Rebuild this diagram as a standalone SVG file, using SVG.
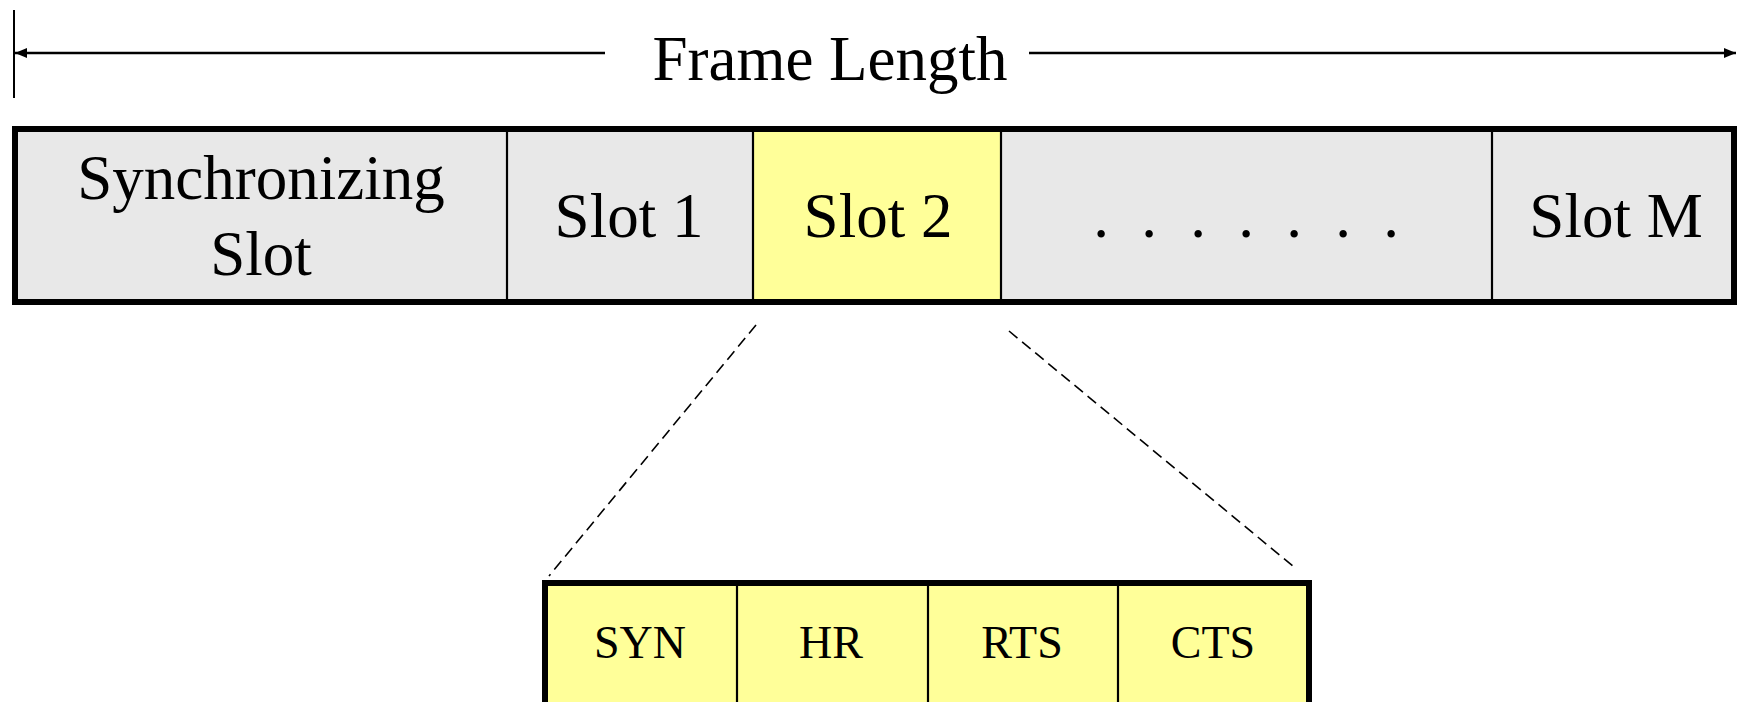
<svg xmlns="http://www.w3.org/2000/svg" width="1737" height="702" viewBox="0 0 1737 702">
  <defs>
    <marker id="arrow" viewBox="0 0 12 10" refX="12" refY="5" markerWidth="12" markerHeight="10" markerUnits="userSpaceOnUse" orient="auto-start-reverse">
      <path d="M0,0 L12,5 L0,10 Z" fill="#000"/>
    </marker>
  </defs>
  <style>
    .lbl { font-family: "Liberation Serif", "Times New Roman", serif; fill: #000; text-anchor: middle; }
    .big { font-size: 63px; }
    .small { font-size: 46px; }
    .frame { stroke: #000; stroke-width: 6; }
    .cell-grey { fill: #e8e8e8; }
    .cell-yellow { fill: #ffff99; }
    .div { stroke: #000; stroke-width: 2.2; }
    .dash { stroke: #000; stroke-width: 1.6; stroke-dasharray: 11 6; fill: none; }
  </style>

  <rect width="1737" height="702" fill="#fff"/>

  <!-- frame length dimension -->
  <g id="frame-length">
    <line x1="14" y1="10" x2="14" y2="98" stroke="#000" stroke-width="2"/>
    <line x1="15" y1="53" x2="605" y2="53" stroke="#000" stroke-width="2.4" marker-start="url(#arrow)"/>
    <line x1="1029" y1="53" x2="1736" y2="53" stroke="#000" stroke-width="2.4" marker-end="url(#arrow)"/>
    <text class="lbl big" x="830" y="80" font-size="64">Frame Length</text>
  </g>

  <!-- frame slots -->
  <g id="frame">
    <rect class="cell-grey" x="15" y="129" width="1722" height="173"/>
    <g id="sync-slot">
      <text class="lbl big" x="261" y="199">Synchronizing</text>
      <text class="lbl big" x="261" y="275">Slot</text>
    </g>
    <g id="slot-1">
      <line class="div" x1="507" y1="129" x2="507" y2="302"/>
      <text class="lbl big" x="629" y="237">Slot 1</text>
    </g>
    <g id="slot-2">
      <rect class="cell-yellow" x="753" y="129" width="248" height="173"/>
      <line class="div" x1="753" y1="129" x2="753" y2="302"/>
      <line class="div" x1="1001" y1="129" x2="1001" y2="302"/>
      <text class="lbl big" x="878" y="237">Slot 2</text>
    </g>
    <g id="slot-dots">
      <text class="lbl big" y="237" x="1101 1149 1198 1246 1294 1343 1391">.......</text>
    </g>
    <g id="slot-m">
      <line class="div" x1="1492" y1="129" x2="1492" y2="302"/>
      <text class="lbl big" x="1616" y="237">Slot M</text>
    </g>
    <rect class="frame" x="15" y="129" width="1719" height="173" fill="none"/>
  </g>

  <!-- expansion of slot 2 -->
  <g id="connectors">
    <line class="dash" x1="756" y1="325" x2="549" y2="576"/>
    <line class="dash" x1="1009" y1="331" x2="1294" y2="567"/>
  </g>

  <g id="slot-detail">
    <rect class="cell-yellow" x="545" y="583" width="764" height="130"/>
    <g id="syn">
      <text class="lbl small" x="640" y="658">SYN</text>
    </g>
    <g id="hr">
      <line class="div" x1="737" y1="583" x2="737" y2="702"/>
      <text class="lbl small" x="831" y="658">HR</text>
    </g>
    <g id="rts">
      <line class="div" x1="928" y1="583" x2="928" y2="702"/>
      <text class="lbl small" x="1022" y="658">RTS</text>
    </g>
    <g id="cts">
      <line class="div" x1="1118" y1="583" x2="1118" y2="702"/>
      <text class="lbl small" x="1213" y="658">CTS</text>
    </g>
    <rect class="frame" x="545" y="583" width="764" height="130" fill="none"/>
  </g>
</svg>
